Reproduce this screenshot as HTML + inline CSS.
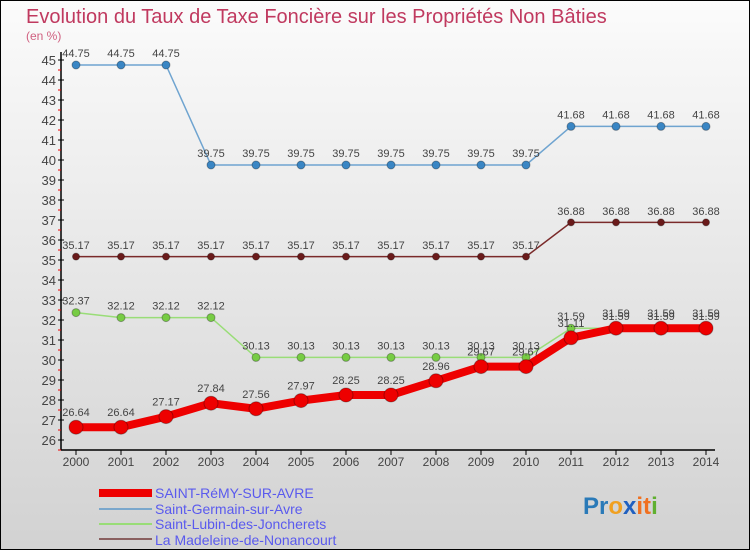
<!DOCTYPE html>
<html><head><meta charset="utf-8"><style>
body{margin:0}
#c{width:750px;height:550px;position:relative;overflow:hidden;background:linear-gradient(#fbfbfb,#d2d2d2);box-sizing:border-box;border:1px solid #000;font-family:"Liberation Sans",sans-serif}
</style></head><body>
<div id="c">
<svg width="750" height="550" id="s" style="position:absolute;left:-1px;top:-1px">
<text x="26" y="23" font-size="20" fill="#c0395f">Evolution du Taux de Taxe Foncière sur les Propriétés Non Bâties</text>
<text x="26" y="40" font-size="12" fill="#d06080">(en %)</text>
<g id="ax"></g><g id="pl"></g>
<g>
<rect x="99" y="489" width="53" height="8" fill="#e00"/>
<text x="155" y="498" font-size="14" fill="#5a5aee">SAINT-RéMY-SUR-AVRE</text>
<rect x="99" y="508" width="53" height="2" fill="#7aa7cc"/>
<text x="155" y="514" font-size="14" fill="#5a5aee">Saint-Germain-sur-Avre</text>
<rect x="99" y="523" width="53" height="2" fill="#99dd77"/>
<text x="155" y="529" font-size="14" fill="#5a5aee">Saint-Lubin-des-Joncherets</text>
<rect x="99" y="538" width="53" height="2" fill="#8a6060"/>
<text x="155" y="545" font-size="14" fill="#5a5aee">La Madeleine-de-Nonancourt</text>
</g>
<text x="583" y="514" font-size="24" font-weight="bold"><tspan fill="#2a7ab8">Pr</tspan><tspan fill="#f0a020">o</tspan><tspan fill="#2060c0">x</tspan><tspan fill="#f07020">it</tspan><tspan fill="#60b030">i</tspan></text>
</svg>
</div>
<script>
const years=[2000,2001,2002,2003,2004,2005,2006,2007,2008,2009,2010,2011,2012,2013,2014];
const yTicks=[26,27,28,29,30,31,32,33,34,35,36,37,38,39,40,41,42,43,44,45];
const remy=[26.64,26.64,27.17,27.84,27.56,27.97,28.25,28.25,28.96,29.67,29.67,31.11,31.59,31.59,31.59];
const germain=[44.75,44.75,44.75,39.75,39.75,39.75,39.75,39.75,39.75,39.75,39.75,41.68,41.68,41.68,41.68];
const lubin=[32.37,32.12,32.12,32.12,30.13,30.13,30.13,30.13,30.13,30.13,30.13,31.59,31.59,31.59,31.59];
const madeleine=[35.17,35.17,35.17,35.17,35.17,35.17,35.17,35.17,35.17,35.17,35.17,36.88,36.88,36.88,36.88];
const NS="http://www.w3.org/2000/svg";
const X=i=>76+i*45, Y=v=>440-(v-26)*20;
function mk(t,a,p){const e=document.createElementNS(NS,t);for(const k in a)e.setAttribute(k,a[k]);p.appendChild(e);return e;}
const ax=document.getElementById('ax'),pl=document.getElementById('pl');
const yl=mk('line',{x1:61,y1:52,x2:61,y2:450,stroke:'#000','stroke-width':1.5},ax);


const xl=mk('line',{x1:61,y1:450,x2:715,y2:450,stroke:'#000','stroke-width':1.5},ax);


yTicks.forEach(v=>{
 mk('line',{x1:58,y1:Y(v),x2:64,y2:Y(v),stroke:'#000'},ax);
 mk('line',{x1:58,y1:Y(v)+10,x2:61,y2:Y(v)+10,stroke:'#e00'},ax);
 const t=mk('text',{x:56,y:Y(v)+5,'font-size':13,fill:'#444','text-anchor':'end'},ax);t.textContent=v;
 
 
});
years.forEach((y,i)=>{
 mk('line',{x1:X(i),y1:450,x2:X(i),y2:455,stroke:'#000'},ax);
 const t=mk('text',{x:X(i),y:466,'font-size':12,fill:'#444','text-anchor':'middle'},ax);t.textContent=y;
 
 
});
function series(d,col,dot,w,r,name){
 const g=mk('g',{},pl);
 
 
 mk('polyline',{points:d.map((v,i)=>X(i)+','+Y(v)).join(' '),fill:'none',stroke:col,'stroke-width':w},g);
 d.forEach((v,i)=>{
  const c=mk('circle',{cx:X(i),cy:Y(v),r:r,fill:dot,stroke:'rgba(0,0,0,0.3)'},g);
  
  
  const t=mk('text',{x:X(i),y:Y(v)-r-4,'font-size':11,fill:'#444','text-anchor':'middle'},g);t.textContent=v.toFixed(2);
 });
}
series(germain,'#6fa4d0','#3a86c4',1.5,4,'saint-germain-series');
series(madeleine,'#7a2a2a','#6a1a1a',1.5,3.5,'madeleine-series');
series(lubin,'#99dd77','#77cc44',1.5,4,'saint-lubin-series');
series(remy,'#e00','#e00',8,7,'saint-remy-series');
</script>
</body></html>
